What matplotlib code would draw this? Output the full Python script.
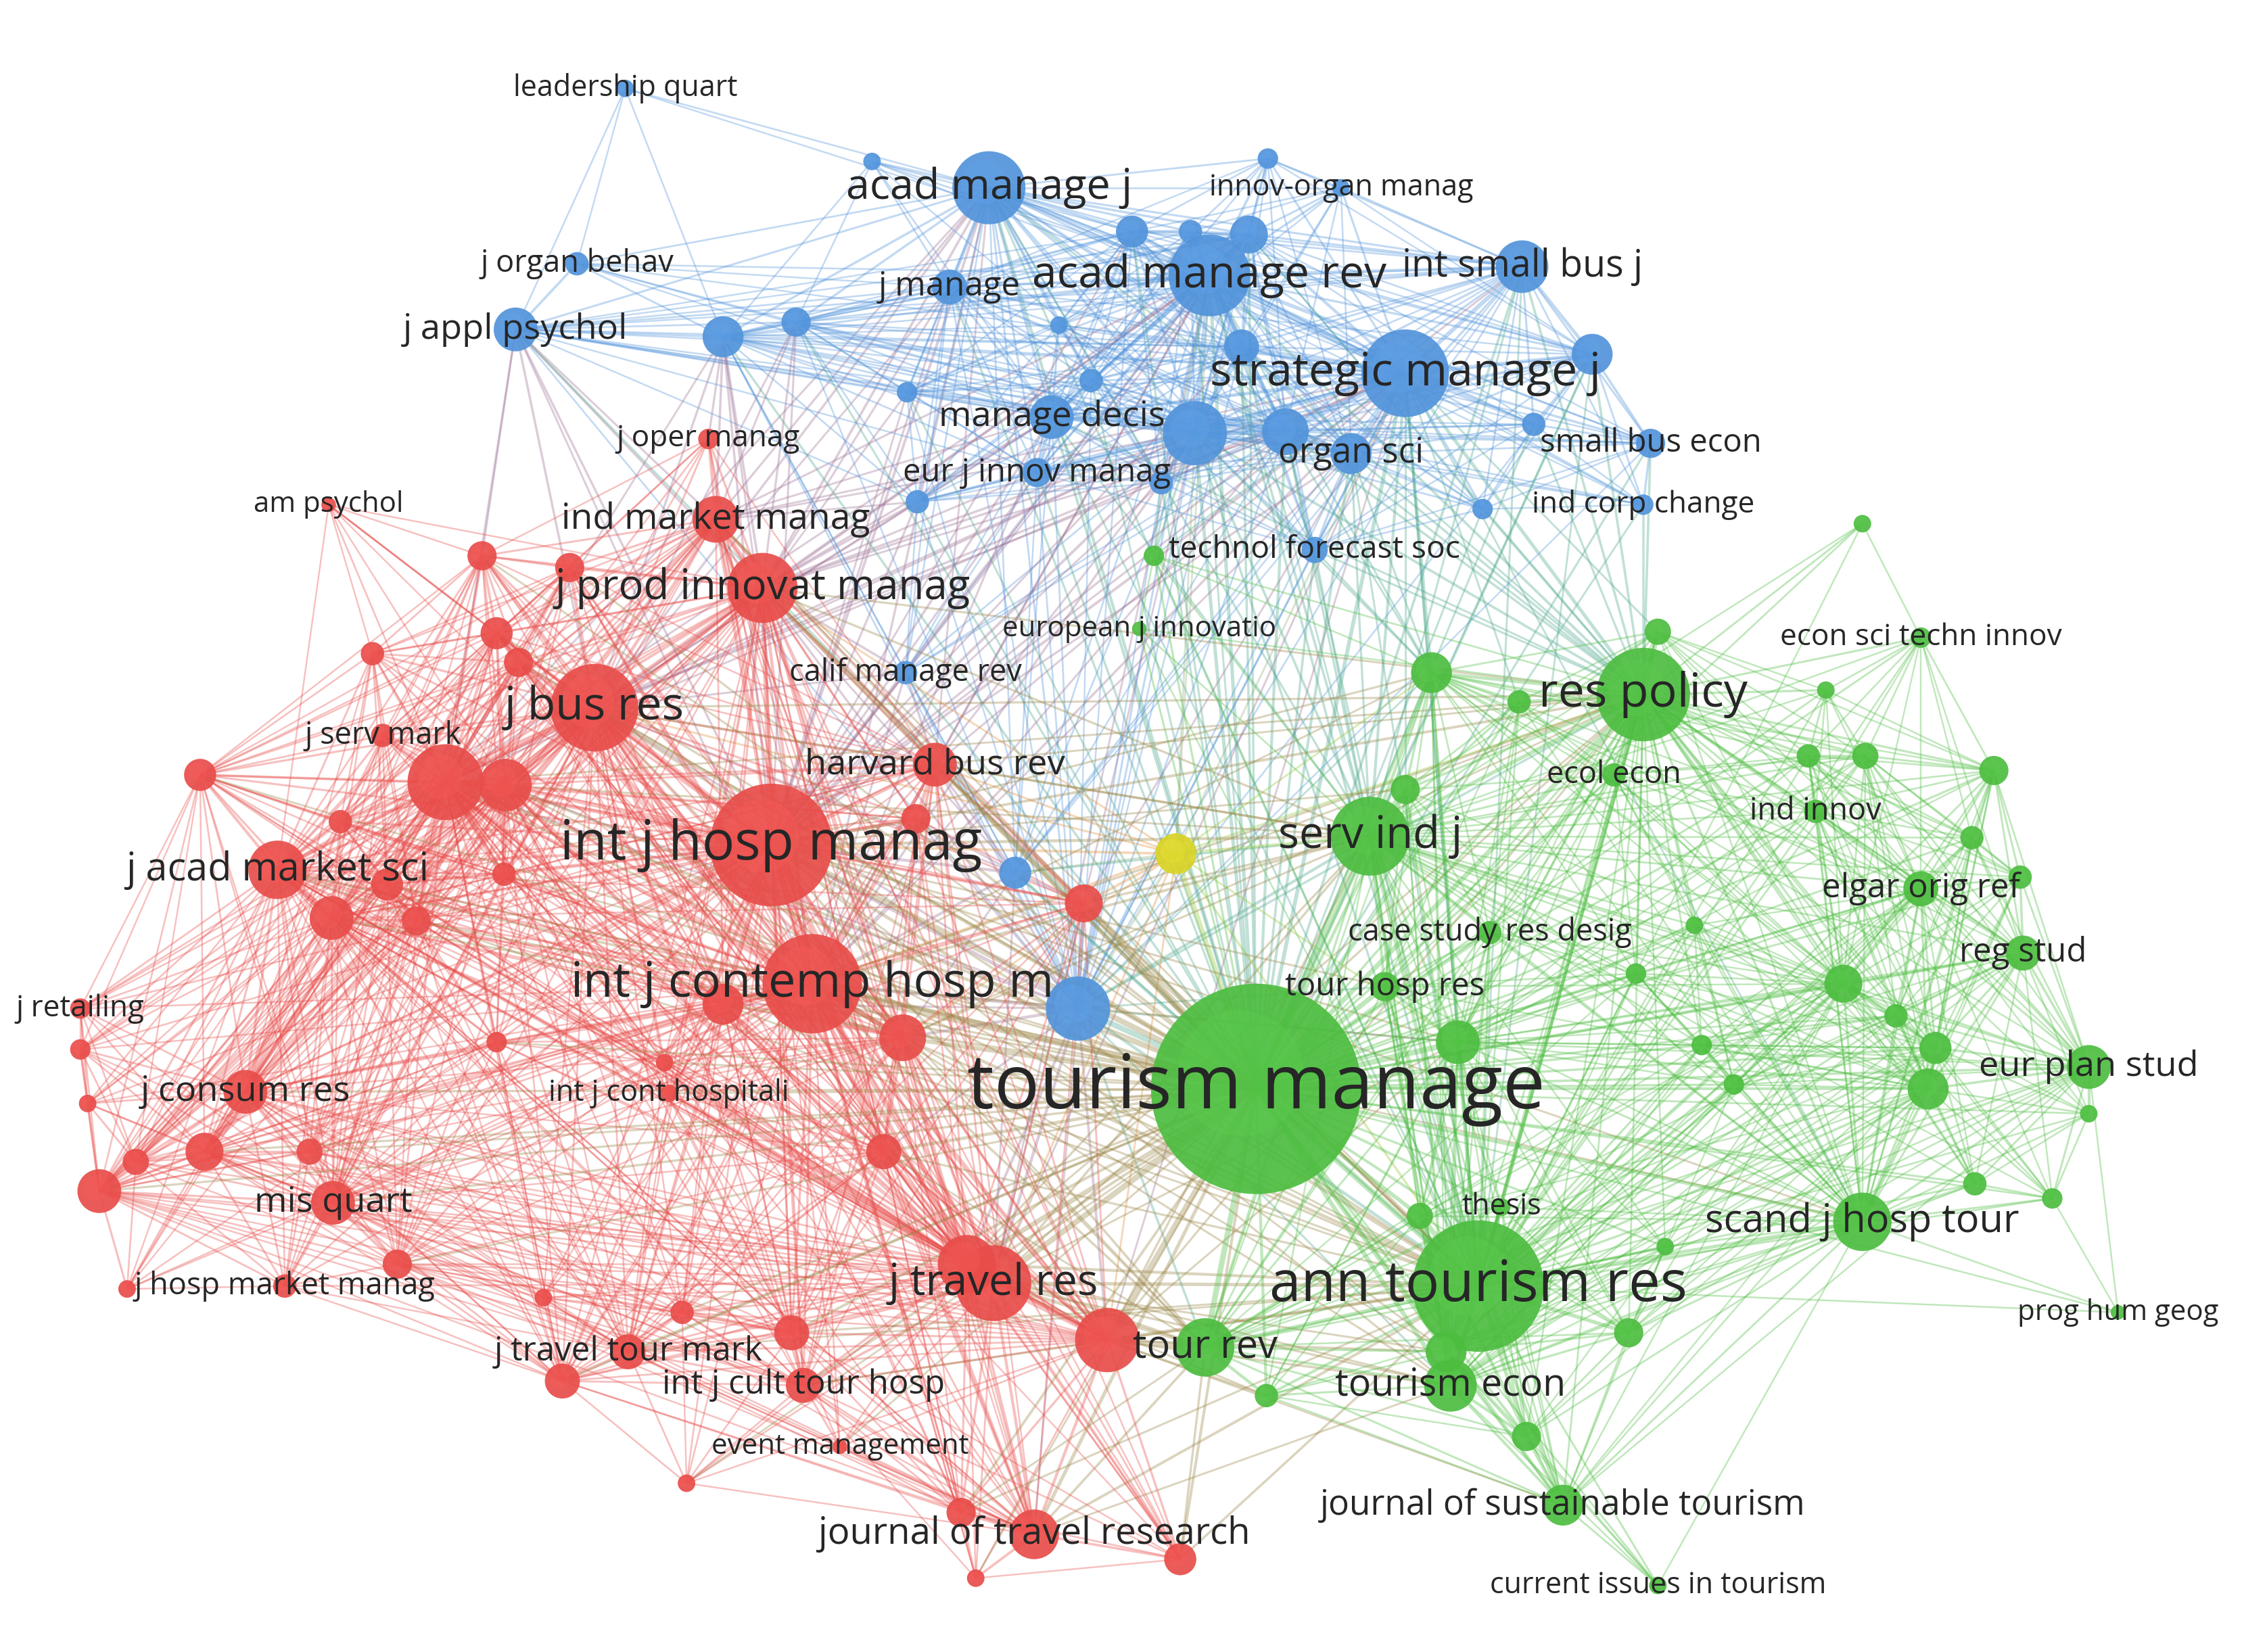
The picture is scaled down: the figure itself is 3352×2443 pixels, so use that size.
import matplotlib
matplotlib.use("Agg")
import matplotlib.pyplot as plt
from matplotlib.patches import Circle
from matplotlib.collections import LineCollection
import numpy as np

plt.rcParams['font.family'] = ['Open Sans', 'DejaVu Sans']

blue_labels = ["leadership quart","acad manage j","innov-organ manag","","j organ behav","j manage","acad manage rev",
 "int small bus j","j appl psychol","strategic manage j","manage decis","","organ sci","small bus econ",
 "eur j innov manag","ind corp change","calif manage rev","",""] + [""]*16 + ["technol forecast soc"]
blue_x = [428,677,918,868,395,650,828,1042,353,962,720,818,925,1130,710,1125,620,738,695,
 495,545,775,815,855,725,747,850,880,1090,1050,1015,795,628,597,621,900]
blue_y = [60,128,128,108,180,196,188,182,225,255,285,296,310,303,323,345,460,690,597,
 230,220,158,158,160,222,260,237,295,242,290,348,330,343,110,268,376]
blue_r = [6,25,6,7,8,12,28,18,15,30,15,22,14,10,10,7,8,22,11,
 14,10,11,8,13,6,8,12,16,14,8,7,8,8,6,7,9]

yellow_x, yellow_y, yellow_r = [805], [584], [14]

red_labels = ["j oper manag","am psychol","ind market manag","j prod innovat manag","j bus res","j serv mark","harvard bus rev",
 "int j hosp manag","j acad market sci","int j contemp hosp m","j retailing","j consum res","int j cont hospitali",
 "mis quart","j hosp market manag","j travel res","j travel tour mark","int j cult tour hosp","event management",
 "journal of travel research"] + [""]*38
red_x = [485,225,490,522,407,262,640,528,190,556,55,168,458,228,195,680,430,550,575,708,
 305,346,330,390,340,355,255,137,233,227,265,285,345,495,618,742,340,140,93,68,212,55,60,87,272,372,467,542,385,605,455,662,758,658,808,668,470,627]
red_y = [300,345,355,402,484,503,523,578,595,673,690,747,748,823,880,878,925,948,990,1050,
 535,537,380,388,433,453,447,530,562,628,605,630,598,687,710,618,713,788,795,815,788,718,755,882,865,888,898,912,945,788,727,865,917,1035,1067,1080,1015,560]
red_r = [7,5,16,24,30,8,15,42,20,34,7,15,6,15,8,26,12,12,5,17,
 26,18,10,10,11,10,8,11,8,15,11,10,8,14,16,13,7,13,9,15,9,7,6,6,10,6,8,12,12,12,6,20,22,10,11,6,6,10]

green_labels = ["tourism manage","ann tourism res","res policy","econ sci techn innov","ecol econ","ind innov","serv ind j",
 "elgar orig ref","case study res desig","reg stud","tour hosp res","eur plan stud","thesis","scand j hosp tour",
 "prog hum geog","tour rev","tourism econ","journal of sustainable tourism","current issues in tourism","european j innovatio"] + [""]*30
green_x = [860,1012,1125,1315,1105,1243,938,1315,1020,1385,948,1430,1028,1275,1450,825,993,1070,1135,780,
 980,1135,1040,1275,1250,1238,1277,1365,1350,1383,1160,1120,1262,1298,1325,1320,1430,1165,1187,1352,1405,998,962,972,1115,1140,1045,867,990,790]
green_y = [745,880,475,436,530,555,572,608,638,652,675,730,826,836,898,922,948,1030,1085,430,
 460,432,480,358,472,517,517,527,573,600,633,666,673,695,717,745,762,715,742,810,820,713,540,832,912,853,983,955,925,380]
green_r = [72,45,32,7,8,8,27,12,8,12,10,15,6,20,5,20,18,14,6,5,
 14,9,8,6,6,8,9,10,8,8,6,7,13,8,11,14,6,7,7,8,7,15,10,9,10,6,10,8,14,7]

labels = blue_labels + [""] + red_labels + green_labels
xs = np.array(blue_x + yellow_x + red_x + green_x, float)
ys = np.array(blue_y + yellow_y + red_y + green_y, float)
r = np.array(blue_r + yellow_r + red_r + green_r, float)
cl = np.array([2]*len(blue_x) + [3] + [0]*len(red_x) + [1]*len(green_x))
n = len(xs)

cols = {0: np.array([0.91, 0.30, 0.29]), 1: np.array([0.30, 0.74, 0.25]),
        2: np.array([0.32, 0.58, 0.86]), 3: np.array([0.85, 0.83, 0.15])}

fig = plt.figure(figsize=(33.52, 24.43), dpi=100)
ax = fig.add_axes([0, 0, 1, 1])
ax.set_xlim(0, 1552); ax.set_ylim(1130, 0); ax.set_aspect('equal'); ax.axis('off')

segs, ecols, lws = [], [], []
for i in range(n):
    for j in range(i + 1, n):
        d = np.hypot(xs[i] - xs[j], ys[i] - ys[j])
        s = r[i] * r[j] / (d + 1)
        same = cl[i] == cl[j]
        thr = 0.35 if same else 0.9
        if s > thr:
            segs.append([(xs[i], ys[i]), (xs[j], ys[j])])
            c = (cols[cl[i]] + cols[cl[j]]) / 2
            ecols.append((*c, 0.35))
            lws.append(min(1.5 + 0.6 * s, 6))
ax.add_collection(LineCollection(segs, colors=ecols, linewidths=lws, zorder=1))

for i in np.argsort(-r):
    c = cols[cl[i]]
    ax.add_patch(Circle((xs[i], ys[i]), r[i], facecolor=(*c, 0.92), edgecolor='none', zorder=2))
    ax.add_patch(Circle((xs[i] - r[i] * 0.15, ys[i] - r[i] * 0.15), r[i] * 0.6,
                        facecolor=(*np.minimum(c + 0.06, 1), 0.4), edgecolor='none', zorder=2))

for i in range(n):
    if labels[i]:
        fs = 26.5 + 0.75 * r[i]
        ax.text(xs[i], ys[i], labels[i], ha='center', va='center', fontsize=fs,
                color='#262626', zorder=3)

fig.savefig("out.png", dpi=100, facecolor='white')
